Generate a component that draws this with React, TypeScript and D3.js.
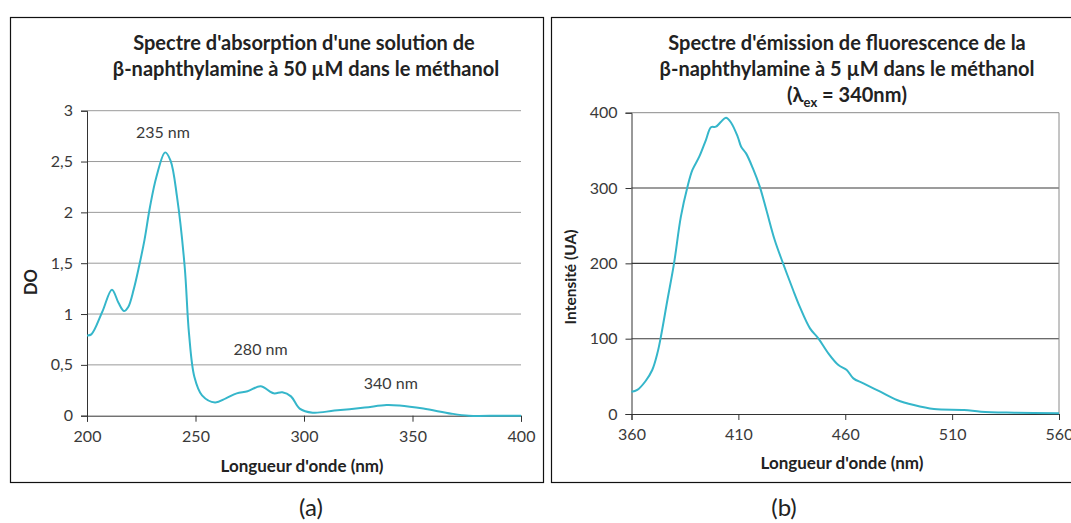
import * as d3 from "d3";
import React from "react";

// (a) absorption spectrum, wavelength (nm) / DO
const absWl = [200, 202, 207, 211.5, 214.5, 217, 219, 221.5, 224, 226.5, 229, 232, 236, 238.5, 241.5, 245, 247, 249.5, 253, 259, 264, 269, 274, 280, 286, 290, 294, 298, 304, 314, 328, 338, 344, 355, 368, 376, 390, 400];
const absDO = [0.79, 0.8, 1.02, 1.24, 1.11, 1.03, 1.07, 1.24, 1.47, 1.73, 2.05, 2.35, 2.59, 2.51, 2.15, 1.47, 0.81, 0.38, 0.2, 0.13, 0.17, 0.22, 0.24, 0.29, 0.22, 0.23, 0.19, 0.07, 0.03, 0.05, 0.08, 0.105, 0.1, 0.07, 0.02, 0, 0, 0];
const absTicksX = [200, 250, 300, 350, 400];
const absTicksY = [0, 0.5, 1, 1.5, 2, 2.5, 3];
const absPeaks = [
  { label: "235 nm", wl: 235, y: 2.79 },
  { label: "280 nm", wl: 280, y: 0.66 },
  { label: "340 nm", wl: 340, y: 0.32 },
];

// (b) emission spectrum, wavelength (nm) / intensity (UA)
const emWl = [360, 362.7, 366.6, 369.7, 372.1, 373.6, 376.8, 379.9, 383.1, 386.2, 388.5, 391.7, 394.8, 397.2, 399.5, 401.9, 404.2, 406.6, 409.7, 411.3, 413.6, 416.8, 420, 423.1, 427, 430.9, 435.6, 438.7, 443.5, 447.4, 452.1, 456.8, 460.7, 463.8, 468.5, 476.4, 484.2, 492.1, 501.5, 515.6, 523.5, 539.1, 560];
const emI = [29.6, 31.9, 43.8, 58.4, 80.5, 100.4, 151.3, 200, 262, 301.8, 324, 341.6, 363.7, 380.6, 381.4, 388, 393.4, 386.7, 368, 354.9, 346, 326, 301.8, 270.8, 231, 200, 164.6, 142.5, 113.7, 100.4, 80.5, 65, 58.4, 47.3, 40.7, 29.6, 18.6, 11.9, 6.6, 5.3, 3.1, 1.8, 0.9];
const emTicksX = [360, 410, 460, 510, 560];
const emTicksY = [0, 100, 200, 300, 400];

const LINE = "#35b6ca";
const FONT = "Lato, 'Open Sans', sans-serif";
const TICK_SIZE = 16;
const TITLE_SIZE = 20;

const App = () => {
  const ref = React.useRef<SVGSVGElement | null>(null);
  const width = 1071;
  const height = 523;

  const draw = (el: SVGSVGElement) => {
    const svg = d3.select(el);
    svg.selectAll("*").remove();
    svg.append("rect").attr("width", width).attr("height", height).attr("fill", "#fff");

    // ---------- panel (a)
    const a = svg.append("g");
    a.append("rect").attr("x", 10.5).attr("y", 17.5).attr("width", 533).attr("height", 465)
      .attr("fill", "none").attr("stroke", "#111").attr("stroke-width", 1.2);

    const xa = d3.scaleLinear().domain([200, 400]).range([87, 521]);
    const ya = d3.scaleLinear().domain([0, 3]).range([415.7, 110.7]);

    a.append("g").selectAll("line").data(absTicksY.filter((d) => d > 0)).join("line")
      .attr("x1", xa(200)).attr("x2", xa(400))
      .attr("y1", (d) => ya(d)).attr("y2", (d) => ya(d))
      .attr("stroke", "#9a9a9a").attr("stroke-width", 1);

    const axYa = a.append("g").attr("transform", `translate(${xa(200)},0)`)
      .call(d3.axisLeft(ya).tickValues(absTicksY).tickSize(6).tickPadding(8)
        .tickFormat((d) => d3.format("")(d as number).replace(".", ",")));
    const axXa = a.append("g").attr("transform", `translate(0,${ya(0)})`)
      .call(d3.axisBottom(xa).tickValues(absTicksX).tickSize(6).tickPadding(9));
    [axYa, axXa].forEach((g) => {
      g.select(".domain").attr("stroke", "#333");
      g.selectAll(".tick line").attr("stroke", "#333");
      g.selectAll("text").attr("font-family", FONT).attr("font-size", TICK_SIZE).attr("fill", "#3a3a3a");
    });

    a.append("path")
      .datum(absWl.map((w, i) => [w, absDO[i]] as [number, number]))
      .attr("d", d3.line().x((d) => xa(d[0])).y((d) => ya(d[1])).curve(d3.curveCatmullRom.alpha(0.5)))
      .attr("fill", "none").attr("stroke", LINE).attr("stroke-width", 2);

    a.append("g").selectAll("text").data(absPeaks).join("text")
      .attr("x", (d) => xa(d.wl)).attr("y", (d) => ya(d.y) + 6)
      .attr("text-anchor", "middle").attr("font-family", FONT).attr("font-size", TICK_SIZE)
      .attr("fill", "#3a3a3a").text((d) => d.label);

    const ta = a.append("text").attr("text-anchor", "middle").attr("font-family", FONT)
      .attr("font-weight", "bold").attr("font-size", TITLE_SIZE).attr("fill", "#222");
    ta.append("tspan").attr("x", 304).attr("y", 49.5).text("Spectre d'absorption d'une solution de");
    ta.append("tspan").attr("x", 306).attr("y", 75.5).text("β-naphthylamine à 50 µM dans le méthanol");

    a.append("text").attr("x", 302).attr("y", 472).attr("text-anchor", "middle")
      .attr("font-family", FONT).attr("font-weight", "bold").attr("font-size", 17).attr("fill", "#222")
      .text("Longueur d'onde (nm)");
    a.append("text").attr("transform", "translate(37,282) rotate(-90)").attr("text-anchor", "middle")
      .attr("font-family", FONT).attr("font-weight", "bold").attr("font-size", 16.5).attr("fill", "#222")
      .text("DO");
    a.append("text").attr("x", 311).attr("y", 516).attr("text-anchor", "middle")
      .attr("font-family", FONT).attr("font-size", 24).attr("fill", "#222").text("(a)");

    // ---------- panel (b)
    const b = svg.append("g");
    b.append("rect").attr("x", 551.5).attr("y", 17.5).attr("width", 540).attr("height", 465)
      .attr("fill", "none").attr("stroke", "#111").attr("stroke-width", 1.2);

    const xb = d3.scaleLinear().domain([360, 560]).range([631.5, 1059]);
    const yb = d3.scaleLinear().domain([0, 400]).range([414, 112.7]);

    b.append("g").selectAll("line").data(emTicksY.filter((d) => d > 0 && d < 400)).join("line")
      .attr("x1", xb(360)).attr("x2", xb(560))
      .attr("y1", (d) => yb(d)).attr("y2", (d) => yb(d))
      .attr("stroke", "#3a3a3a").attr("stroke-width", 1.1);
    // plot area frame (top and right)
    b.append("path")
      .attr("d", `M${xb(360)},${yb(400)}H${xb(560)}V${yb(0)}`)
      .attr("fill", "none").attr("stroke", "#8a8a8a").attr("stroke-width", 1);

    const axYb = b.append("g").attr("transform", `translate(${xb(360)},0)`)
      .call(d3.axisLeft(yb).tickValues(emTicksY).tickSize(6).tickPadding(8));
    const axXb = b.append("g").attr("transform", `translate(0,${yb(0)})`)
      .call(d3.axisBottom(xb).tickValues(emTicksX).tickSize(6).tickPadding(9));
    [axYb, axXb].forEach((g) => {
      g.select(".domain").attr("stroke", "#333");
      g.selectAll(".tick line").attr("stroke", "#333");
      g.selectAll("text").attr("font-family", FONT).attr("font-size", TICK_SIZE).attr("fill", "#3a3a3a");
    });

    b.append("path")
      .datum(emWl.map((w, i) => [w, emI[i]] as [number, number]))
      .attr("d", d3.line().x((d) => xb(d[0])).y((d) => yb(d[1])).curve(d3.curveCatmullRom.alpha(0.5)))
      .attr("fill", "none").attr("stroke", LINE).attr("stroke-width", 2);

    const tb = b.append("text").attr("text-anchor", "middle").attr("font-family", FONT)
      .attr("font-weight", "bold").attr("font-size", TITLE_SIZE).attr("fill", "#222");
    tb.append("tspan").attr("x", 847).attr("y", 49.5).text("Spectre d'émission de fluorescence de la");
    tb.append("tspan").attr("x", 847).attr("y", 75.5).text("β-naphthylamine à 5 µM dans le méthanol");
    const l3 = b.append("text").attr("x", 847).attr("y", 102).attr("text-anchor", "middle")
      .attr("font-family", FONT).attr("font-weight", "bold").attr("font-size", TITLE_SIZE).attr("fill", "#222");
    l3.append("tspan").text("(λ");
    l3.append("tspan").attr("font-size", 13).attr("dy", 5).text("ex");
    l3.append("tspan").attr("dy", -5).text(" = 340nm)");

    b.append("text").attr("x", 842).attr("y", 469).attr("text-anchor", "middle")
      .attr("font-family", FONT).attr("font-weight", "bold").attr("font-size", 17).attr("fill", "#222")
      .text("Longueur d'onde (nm)");
    b.append("text").attr("transform", "translate(576,277) rotate(-90)").attr("text-anchor", "middle")
      .attr("font-family", FONT).attr("font-weight", "bold").attr("font-size", 15.5).attr("fill", "#222")
      .text("Intensité (UA)");
    b.append("text").attr("x", 784).attr("y", 516).attr("text-anchor", "middle")
      .attr("font-family", FONT).attr("font-size", 24).attr("fill", "#222").text("(b)");
  };

  React.useEffect(() => {
    document.body.style.margin = "0";
    if (ref.current) draw(ref.current);
  });

  return (
    <svg ref={ref} width={width} height={height} style={{ display: "block" }}></svg>
  );
};

export default App;
